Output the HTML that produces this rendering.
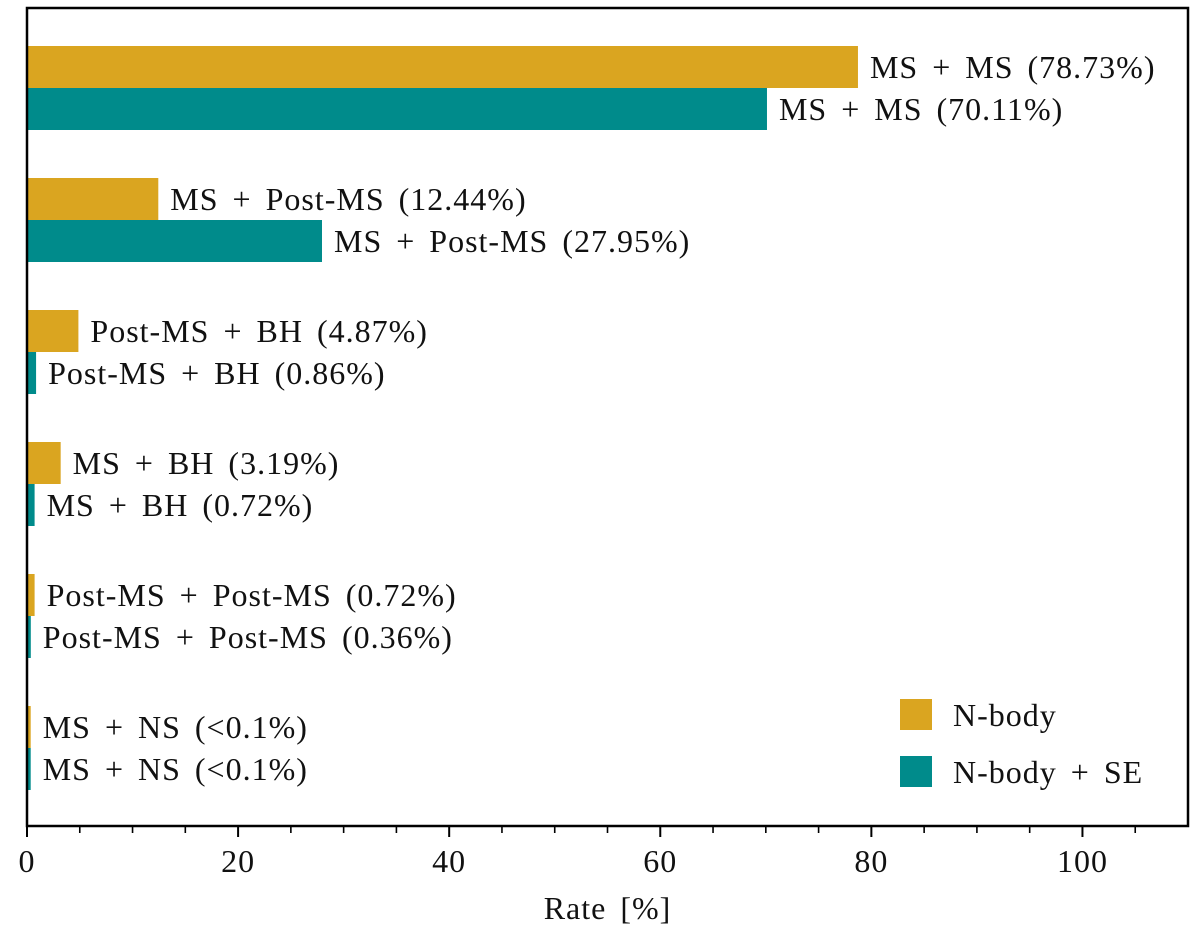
<!DOCTYPE html>
<html><head><meta charset="utf-8"><style>
body{margin:0;background:#fff}
svg text{font-family:"Liberation Serif",serif;fill:#111}
.lbl{letter-spacing:1px;word-spacing:5px}
</style></head><body>
<svg id="chart" width="1200" height="947" xmlns="http://www.w3.org/2000/svg"></svg>
<script>
const categories=["MS + MS","MS + Post-MS","Post-MS + BH","MS + BH","Post-MS + Post-MS","MS + NS"];
const nbodyValues=[78.73,12.44,4.87,3.19,0.72,0.35];
const seValues=[70.11,27.95,0.86,0.72,0.36,0.35];
const nbodyLabels=["78.73%","12.44%","4.87%","3.19%","0.72%","<0.1%"];
const seLabels=["70.11%","27.95%","0.86%","0.72%","0.36%","<0.1%"];
const xTicks=[0,20,40,60,80,100];
const xMinor=[5,10,15,25,30,35,45,50,55,65,70,75,85,90,95,105];

const svg=document.getElementById('chart');
const NS='http://www.w3.org/2000/svg';
const L=27,R=1188,T=8,B=826,XMAX=110;
const x=v=>L+v/XMAX*(R-L);
const groupTop=i=>46+132*i;
const BH=42;
function mk(tag,attrs,parent){const e=document.createElementNS(NS,tag);for(const k in attrs)e.setAttribute(k,attrs[k]);(parent||svg).appendChild(e);return e;}

categories.forEach((c,i)=>{
  const y0=groupTop(i);
  const b1=mk('rect',{x:x(0),y:y0,width:x(nbodyValues[i])-x(0),height:BH,fill:'#DAA520'});
  
  
  const b2=mk('rect',{x:x(0),y:y0+BH,width:x(seValues[i])-x(0),height:BH,fill:'#008B8B'});
  
  
  const t1=mk('text',{x:x(nbodyValues[i])+12,y:y0+BH/2+11,'font-size':32,'class':'lbl'});
  t1.textContent=c+' ('+nbodyLabels[i]+')';
  
  
  const t2=mk('text',{x:x(seValues[i])+12,y:y0+BH*1.5+11,'font-size':32,'class':'lbl'});
  t2.textContent=c+' ('+seLabels[i]+')';
  
  
});

const frame=mk('rect',{x:L,y:T,width:R-L,height:B-T,fill:'none',stroke:'#000','stroke-width':2.5});



xTicks.forEach(v=>{
  const l=mk('line',{x1:x(v),x2:x(v),y1:B,y2:B+11,stroke:'#000','stroke-width':2});
  
  
  const t=mk('text',{x:x(v),y:B+46,'font-size':32,'text-anchor':'middle','letter-spacing':'1'});
  t.textContent=v;
  
  
});
xMinor.forEach(v=>{
  const l=mk('line',{x1:x(v),x2:x(v),y1:B,y2:B+7,stroke:'#000','stroke-width':1.6});
  
  
});
const xt=mk('text',{x:x(55),y:B+93,'font-size':32,'text-anchor':'middle','class':'lbl'});
xt.textContent='Rate [%]';



const legend=mk('g',{});


[['N-body','#DAA520',699],['N-body + SE','#008B8B',756]].forEach(([n,c,y],i)=>{
  const r=mk('rect',{x:900,y:y,width:32,height:31,fill:c},legend);
  
  
  const t=mk('text',{x:953,y:y+27,'font-size':32,'class':'lbl'},legend);
  t.textContent=n;
  
  
});
</script>
</body></html>
